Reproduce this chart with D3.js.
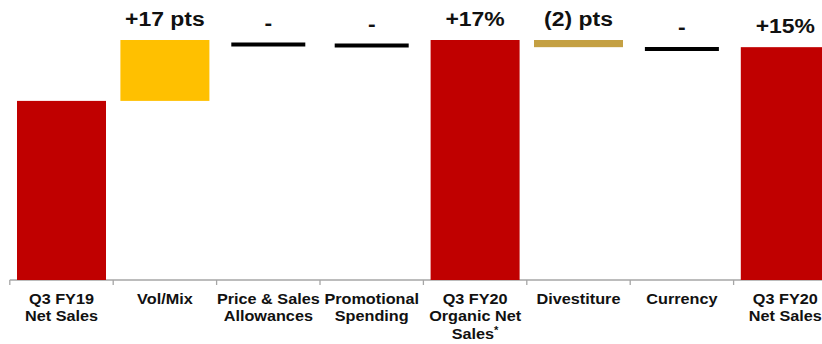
<!DOCTYPE html>
<html>
<head>
<meta charset="utf-8">
<script src="https://cdn.jsdelivr.net/npm/d3@7/dist/d3.min.js"></script>
<style>
  html, body { margin: 0; padding: 0; background: #fff; overflow: hidden; }
  svg { display: block; font-family: "Liberation Sans", Arial, sans-serif; }
</style>
</head>
<body>
<svg id="chart" width="822" height="344"></svg>
<script>
// Net sales bridge, Q3 FY19 -> Q3 FY20 (index: Q3 FY19 = 100)
const categories = [
  "Q3 FY19\nNet Sales",
  "Vol/Mix",
  "Price & Sales\nAllowances",
  "Promotional\nSpending",
  "Q3 FY20\nOrganic Net\nSales*",
  "Divestiture",
  "Currency",
  "Q3 FY20\nNet Sales"
];
// bar kind: total, increase, flat (no change), decrease
const kinds = ["total", "increase", "flat", "flat", "total", "decrease", "flat", "total"];
const startValues = [50, 100, 115.75, 115.45, 50, 117, 114.5, 50];
const endValues   = [100, 117, 115.75, 115.45, 117, 115, 114.5, 115];
const valueLabels = ["", "+17 pts", "-", "-", "+17%", "(2) pts", "-", "+15%"];

const colors = { total: "#C00000", increase: "#FFC000", decrease: "#C4A043", flat: "#000000" };

const svg = d3.select("#chart");
const stretch = 1.12;

const x = d3.scaleBand()
  .domain(categories)
  .range([9.8, 9.8 + 103.4 * categories.length])
  .padding(0);

const y = d3.scaleLinear().domain([50, 117]).range([280, 40]);

const data = categories.map((c, i) => ({
  cat: c, kind: kinds[i], start: startValues[i], end: endValues[i], label: valueLabels[i]
}));

const cx = d => x(d.cat) + x.bandwidth() / 2;

// axis line and tick marks at category boundaries
const axisG = svg.append("g").attr("class", "axis");
axisG.append("line")
  .attr("x1", x.range()[0]).attr("x2", 822)
  .attr("y1", y(50)).attr("y2", y(50))
  .attr("stroke", "#a6a6a6").attr("stroke-width", 1.3);
axisG.selectAll("line.tick")
  .data(categories)
  .join("line")
  .attr("class", "tick")
  .attr("x1", d => x(d)).attr("x2", d => x(d))
  .attr("y1", y(50)).attr("y2", y(50) + 5)
  .attr("stroke", "#a6a6a6").attr("stroke-width", 1.3);

// bars
const barW = 89, lineW = 74;
svg.append("g").selectAll("rect.bar")
  .data(data.filter(d => d.kind !== "flat"))
  .join("rect")
  .attr("class", "bar")
  .attr("x", d => cx(d) - barW / 2)
  .attr("width", barW)
  .attr("y", d => y(Math.max(d.start, d.end)))
  .attr("height", d => Math.abs(y(d.start) - y(d.end)))
  .attr("fill", d => colors[d.kind]);

// no-change markers
svg.append("g").selectAll("line.flat")
  .data(data.filter(d => d.kind === "flat"))
  .join("line")
  .attr("class", "flat")
  .attr("x1", d => cx(d) - lineW / 2)
  .attr("x2", d => cx(d) + lineW / 2)
  .attr("y1", d => y(d.end)).attr("y2", d => y(d.end))
  .attr("stroke", colors.flat)
  .attr("stroke-width", 4);

// value labels above each step
svg.append("g").selectAll("text.value")
  .data(data.filter(d => d.label))
  .join("text")
  .attr("class", "value")
  .attr("transform", d => `translate(${cx(d)},${y(Math.max(d.start, d.end)) - 14.5}) scale(${stretch},1)`)
  .attr("text-anchor", "middle")
  .attr("font-size", 20.5)
  .attr("font-weight", "bold")
  .attr("fill", "#111")
  .text(d => d.label);

// category labels
const catG = svg.append("g").selectAll("text.cat")
  .data(categories)
  .join("text")
  .attr("class", "cat")
  .attr("transform", d => `translate(${x(d) + x.bandwidth() / 2},303.5) scale(${stretch},1)`)
  .attr("text-anchor", "middle")
  .attr("font-size", 14.5)
  .attr("font-weight", "bold")
  .attr("fill", "#111");

catG.each(function (d) {
  const t = d3.select(this);
  d.split("\n").forEach((line, i) => {
    const ts = t.append("tspan").attr("x", 0).attr("y", i * 18);
    if (line.endsWith("*")) {
      ts.append("tspan").text(line.slice(0, -1));
      ts.append("tspan").attr("font-size", 10).attr("dy", -5).text("*");
    } else {
      ts.text(line);
    }
  });
});
</script>
</body>
</html>
